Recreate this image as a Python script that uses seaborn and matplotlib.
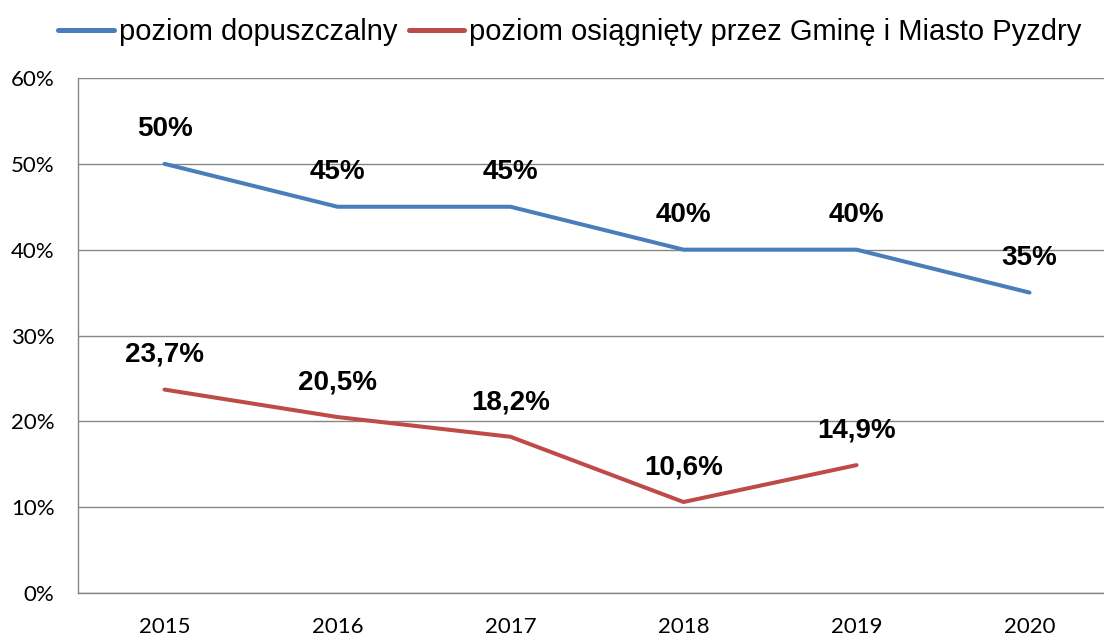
import numpy as np
import pandas as pd
import matplotlib
matplotlib.use("Agg")
import matplotlib.pyplot as plt
import seaborn as sns

years = ["2015", "2016", "2017", "2018", "2019", "2020"]
allowed = [50, 45, 45, 40, 40, 35]
achieved = [23.7, 20.5, 18.2, 10.6, 14.9, np.nan]
allowed_labels = ["50%", "45%", "45%", "40%", "40%", "35%"]
achieved_labels = ["23,7%", "20,5%", "18,2%", "10,6%", "14,9%", ""]
series_names = ["poziom dopuszczalny", "poziom osiągnięty przez Gminę i Miasto Pyzdry"]
colors = ["#4a7ebb", "#be4b48"]

sns.set_style("white")
plt.rcParams["font.family"] = ["Liberation Sans", "DejaVu Sans"]
plt.rcParams["text.color"] = "black"
plt.rcParams["xtick.color"] = "black"
plt.rcParams["ytick.color"] = "black"

x = np.arange(len(years))
df = pd.concat([
    pd.DataFrame({"x": x, "value": allowed, "series": series_names[0]}),
    pd.DataFrame({"x": x, "value": achieved, "series": series_names[1]}),
], ignore_index=True)

fig = plt.figure(figsize=(11.04, 6.37), dpi=100)
ax = fig.add_axes([78 / 1104, 1 - 593 / 637, 1038 / 1104, 515 / 637])

sns.lineplot(data=df, x="x", y="value", hue="series", palette=colors,
             linewidth=2.9, ax=ax, legend=False)

# data labels above each point
for vals, labs in [(allowed, allowed_labels), (achieved, achieved_labels)]:
    for xi, v, lab in zip(x, vals, labs):
        if lab:
            ax.annotate(lab, (xi, v), xytext=(0, 25), textcoords="offset points",
                        ha="center", va="center", fontsize=20, fontweight="bold")

ax.set_xlim(-0.5, len(years) - 0.5)
ax.set_ylim(0, 60)
ax.set_yticks(range(0, 61, 10))
ax.set_yticklabels([f"{v}%" for v in range(0, 61, 10)], fontsize=16,
                   family=["Lato", "DejaVu Sans"])
ax.set_xticks(x)
ax.set_xticklabels(years, fontsize=16, family=["Lato", "DejaVu Sans"])
ax.set_xticks(np.arange(-0.5, len(years), 1), minor=True)
ax.tick_params(axis="x", which="major", length=0, pad=17)
ax.tick_params(axis="x", which="minor", length=6, color="#868686", width=1)
ax.tick_params(axis="y", length=6, color="#868686", width=1, pad=11)
ax.grid(axis="y", color="#868686", linewidth=1)
ax.set_axisbelow(True)
for s in ["top", "right"]:
    ax.spines[s].set_visible(False)
for s in ["left", "bottom"]:
    ax.spines[s].set_color("#868686")
    ax.spines[s].set_linewidth(1)
ax.set_xlabel("")
ax.set_ylabel("")

handles = [plt.Line2D([], [], color=c, linewidth=3.6, solid_capstyle="round") for c in colors]
fig.legend(handles, series_names, loc="center", bbox_to_anchor=(570 / 1104, 1 - 32 / 637),
           ncol=2, frameon=False, fontsize=21, handlelength=1.9, handletextpad=0.17,
           columnspacing=0.4, borderpad=0, borderaxespad=0)

fig.savefig("out.png", dpi=100)
